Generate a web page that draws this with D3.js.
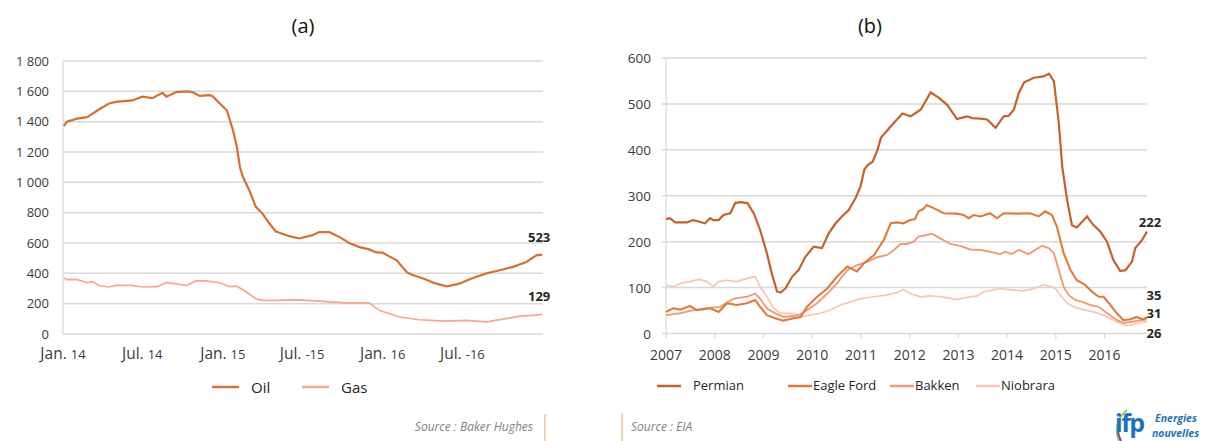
<!DOCTYPE html>
<html><head><meta charset="utf-8">
<script src="https://cdn.jsdelivr.net/npm/d3@7"></script>
<style>body{margin:0;background:#fff}svg{display:block}text{font-family:"Open Sans",sans-serif}</style>
</head><body><svg id="c" width="1210" height="441"></svg>
<script>
// ---------- Panel (a): rig counts, Baker Hughes ----------
const oilRigs = [["2014-01-03",1370],["2014-01-10",1400],["2014-02-02",1420],["2014-02-25",1430],["2014-03-24",1480],["2014-04-16",1520],["2014-05-02",1530],["2014-06-08",1540],["2014-07-01",1565],["2014-07-24",1555],["2014-08-16",1590],["2014-08-25",1565],["2014-09-17",1595],["2014-10-10",1600],["2014-10-23",1595],["2014-11-09",1570],["2014-12-02",1575],["2014-12-08",1570],["2014-12-25",1520],["2015-01-10",1475],["2015-01-24",1345],["2015-02-02",1235],["2015-02-09",1100],["2015-02-16",1035],["2015-03-02",950],["2015-03-17",840],["2015-04-01",795],["2015-04-17",730],["2015-05-02",675],["2015-06-02",645],["2015-06-24",630],["2015-07-23",650],["2015-08-09",672],["2015-09-01",672],["2015-09-24",640],["2015-10-16",600],["2015-11-09",573],["2015-12-01",558],["2015-12-17",538],["2016-01-01",536],["2016-01-16",512],["2016-02-02",486],["2016-02-25",408],["2016-03-08",390],["2016-04-01",368],["2016-05-02",332],["2016-05-27",314],["2016-06-24",332],["2016-07-23",368],["2016-08-25",400],["2016-09-24",420],["2016-10-23",441],["2016-11-24",475],["2016-12-17",519],["2016-12-30",523]];
const gasRigs = [["2014-01-03",370],["2014-01-10",358],["2014-02-02",360],["2014-02-25",338],["2014-03-10",345],["2014-03-24",320],["2014-04-16",310],["2014-05-02",320],["2014-06-08",320],["2014-07-01",310],["2014-08-03",312],["2014-08-25",338],["2014-09-17",330],["2014-10-10",320],["2014-11-01",350],["2014-11-24",350],["2014-12-25",338],["2015-01-17",312],["2015-02-02",315],["2015-02-24",277],["2015-03-17",233],["2015-04-01",222],["2015-05-02",222],["2015-06-24",225],["2015-08-09",217],["2015-10-09",205],["2015-12-01",205],["2015-12-24",156],["2016-02-08",112],["2016-03-24",94],["2016-05-24",85],["2016-07-09",90],["2016-08-25",80],["2016-10-09",101],["2016-11-09",118],["2016-12-09",123],["2016-12-30",129]];
const leftYTicks = [0,200,400,600,800,1000,1200,1400,1600,1800];
const leftYTickLabels = ["0","200","400","600","800","1 000","1 200","1 400","1 600","1 800"];
const leftXTicks = ["2014-01-01","2014-07-01","2015-01-01","2015-07-01","2016-01-01","2016-07-01"];
const leftXMonth = ["Jan.","Jul.","Jan.","Jul.","Jan.","Jul."];
const leftXYear = ["14","14","15","-15","16","-16"];
const leftSeriesNames = ["Oil","Gas"];
const leftEndLabels = ["523","129"];

// ---------- Panel (b): rigs by play, EIA ----------
const permian = [[2007.00,249],[2007.08,251],[2007.19,242],[2007.43,242],[2007.56,247],[2007.67,244],[2007.80,240],[2007.91,251],[2007.97,247],[2008.08,247],[2008.18,258],[2008.32,262],[2008.42,284],[2008.52,286],[2008.67,284],[2008.80,262],[2008.93,226],[2009.07,175],[2009.17,131],[2009.28,91],[2009.35,89],[2009.45,98],[2009.59,124],[2009.72,138],[2009.86,167],[2010.03,189],[2010.20,186],[2010.34,218],[2010.48,240],[2010.61,255],[2010.75,269],[2010.89,295],[2010.99,320],[2011.07,357],[2011.14,367],[2011.24,374],[2011.34,400],[2011.41,426],[2011.61,451],[2011.85,479],[2012.02,473],[2012.23,488],[2012.43,525],[2012.60,513],[2012.77,498],[2012.97,467],[2013.18,473],[2013.28,469],[2013.45,468],[2013.59,466],[2013.76,448],[2013.93,473],[2014.03,474],[2014.14,488],[2014.24,524],[2014.35,547],[2014.55,557],[2014.75,560],[2014.86,566],[2014.96,549],[2015.06,459],[2015.13,364],[2015.23,291],[2015.33,236],[2015.43,231],[2015.64,255],[2015.77,236],[2015.91,222],[2016.05,200],[2016.18,160],[2016.32,136],[2016.43,138],[2016.56,156],[2016.63,186],[2016.77,204],[2016.87,222]];
const eagleFord = [[2007.00,47],[2007.15,55],[2007.29,52],[2007.49,60],[2007.63,51],[2007.91,55],[2008.08,47],[2008.25,66],[2008.45,62],[2008.66,66],[2008.83,73],[2008.93,58],[2009.07,40],[2009.24,33],[2009.41,28],[2009.62,33],[2009.76,36],[2009.89,58],[2010.10,80],[2010.31,98],[2010.51,124],[2010.72,146],[2010.92,135],[2011.06,153],[2011.27,171],[2011.47,204],[2011.61,240],[2011.74,242],[2011.87,240],[2012.01,247],[2012.11,249],[2012.18,266],[2012.28,271],[2012.35,280],[2012.49,273],[2012.70,262],[2012.97,261],[2013.11,258],[2013.21,251],[2013.31,258],[2013.45,255],[2013.65,262],[2013.79,251],[2013.93,262],[2014.20,261],[2014.47,262],[2014.65,255],[2014.78,266],[2014.92,258],[2015.02,233],[2015.16,175],[2015.30,138],[2015.43,116],[2015.60,106],[2015.74,91],[2015.88,80],[2015.98,80],[2016.12,62],[2016.25,44],[2016.39,29],[2016.53,31],[2016.66,36],[2016.77,31],[2016.87,35]];
const bakken = [[2007.00,40],[2007.29,44],[2007.56,51],[2007.84,55],[2008.11,58],[2008.39,76],[2008.66,80],[2008.83,87],[2008.93,76],[2009.07,55],[2009.24,44],[2009.41,36],[2009.62,38],[2009.76,42],[2009.89,51],[2010.10,66],[2010.31,87],[2010.51,109],[2010.72,138],[2010.92,149],[2011.13,156],[2011.33,166],[2011.54,171],[2011.68,182],[2011.81,195],[2011.94,195],[2012.08,200],[2012.18,211],[2012.28,213],[2012.46,217],[2012.63,207],[2012.83,195],[2013.04,191],[2013.24,183],[2013.45,182],[2013.65,178],[2013.86,173],[2013.96,178],[2014.10,173],[2014.24,182],[2014.44,173],[2014.58,182],[2014.72,191],[2014.85,186],[2014.96,175],[2015.06,138],[2015.16,102],[2015.26,84],[2015.40,73],[2015.54,69],[2015.71,62],[2015.88,58],[2016.05,44],[2016.26,29],[2016.39,23],[2016.53,25],[2016.70,28],[2016.87,31]];
const niobrara = [[2007.00,105],[2007.15,102],[2007.29,109],[2007.49,113],[2007.67,118],[2007.84,113],[2007.97,102],[2008.08,113],[2008.25,116],[2008.45,113],[2008.66,120],[2008.83,124],[2008.93,102],[2009.07,80],[2009.21,55],[2009.35,44],[2009.55,44],[2009.69,42],[2009.76,36],[2009.96,40],[2010.17,44],[2010.37,51],[2010.58,62],[2010.79,69],[2010.99,76],[2011.27,80],[2011.54,84],[2011.74,89],[2011.87,96],[2012.01,87],[2012.22,80],[2012.42,82],[2012.63,80],[2012.76,78],[2012.97,74],[2013.18,79],[2013.38,82],[2013.52,91],[2013.72,95],[2013.86,98],[2014.07,95],[2014.34,93],[2014.55,98],[2014.75,106],[2014.89,103],[2014.99,98],[2015.09,84],[2015.23,66],[2015.37,58],[2015.57,52],[2015.78,47],[2015.98,40],[2016.19,29],[2016.39,18],[2016.53,18],[2016.70,23],[2016.87,26]];
const rightYTicks = [0,100,200,300,400,500,600];
const rightXTicks = [2007,2008,2009,2010,2011,2012,2013,2014,2015,2016];
const rightSeriesNames = ["Permian","Eagle Ford","Bakken","Niobrara"];
const rightEndLabels = ["222","35","31","26"];

const C = {oil:"#d6702f", gas:"#f5a98a", permian:"#c5622b", eagle:"#e07a3a", bakken:"#f29b74", niobrara:"#f8c6b2", grid:"#d9d9d9", text:"#3a3a3a"};

const svg = d3.select("#c");
const parse = d3.timeParse("%Y-%m-%d");

// ===== Panel (a) =====
const xa = d3.scaleTime().domain([parse("2014-01-01"), parse("2017-01-01")]).range([63, 543]);
const ya = d3.scaleLinear().domain([0, 1800]).range([334, 61]);
const ga = svg.append("g");
ga.selectAll("line.grid").data(leftYTicks).join("line")
  .attr("x1", 63).attr("x2", 543).attr("y1", d => ya(d)).attr("y2", d => ya(d))
  .attr("stroke", C.grid).attr("stroke-width", 1.5);
ga.append("line").attr("x1", 63).attr("x2", 63).attr("y1", ya(1800)).attr("y2", ya(0))
  .attr("stroke", C.grid).attr("stroke-width", 1.2);
ga.selectAll("text.yl").data(leftYTicks).join("text")
  .attr("x", 49).attr("y", d => ya(d) + 4.5).attr("text-anchor", "end")
  .attr("font-size", 13).attr("fill", C.text).text((d, i) => leftYTickLabels[i]);
const xl = ga.selectAll("text.xl").data(leftXTicks).join("text")
  .attr("x", d => xa(parse(d))).attr("y", 359).attr("text-anchor", "middle").attr("fill", C.text);
xl.append("tspan").attr("font-size", 15.5).text((d, i) => leftXMonth[i] + " ");
xl.append("tspan").attr("font-size", 13).text((d, i) => leftXYear[i]);

const lineA = d3.line().x(d => xa(parse(d[0]))).y(d => ya(d[1]));
ga.append("path").attr("d", lineA(gasRigs)).attr("fill", "none").attr("stroke", C.gas).attr("stroke-width", 1.7);
ga.append("path").attr("d", lineA(oilRigs)).attr("fill", "none").attr("stroke", C.oil).attr("stroke-width", 2.2);
const lastOil = oilRigs[oilRigs.length - 1], lastGas = gasRigs[gasRigs.length - 1];
ga.append("text").attr("x", xa(parse(lastOil[0])) - 3).attr("y", ya(lastOil[1]) - 13)
  .attr("text-anchor", "middle").attr("font-size", 13).attr("font-weight", "bold").attr("fill", "#262626").text(leftEndLabels[0]);
ga.append("text").attr("x", xa(parse(lastGas[0])) - 3).attr("y", ya(lastGas[1]) - 13)
  .attr("text-anchor", "middle").attr("font-size", 13).attr("font-weight", "bold").attr("fill", "#262626").text(leftEndLabels[1]);

svg.append("text").attr("x", 303).attr("y", 33).attr("text-anchor", "middle").attr("font-size", 20)
  .attr("font-family", "Lato, 'Open Sans', sans-serif").attr("fill", "#111").text("(a)");

// legend (a)
const legA = [{n: leftSeriesNames[0], c: C.oil, x: 212}, {n: leftSeriesNames[1], c: C.gas, x: 302}];
legA.forEach(l => {
  svg.append("line").attr("x1", l.x).attr("x2", l.x + 27).attr("y1", 387).attr("y2", 387).attr("stroke", l.c).attr("stroke-width", 2.5);
  svg.append("text").attr("x", l.x + 39).attr("y", 393).attr("font-size", 15).attr("fill", "#262626").text(l.n);
});
svg.append("text").attr("x", 533).attr("y", 431).attr("text-anchor", "end").attr("font-size", 12)
  .attr("font-style", "italic").attr("fill", "#7f7f7f").text("Source : Baker Hughes");
svg.append("line").attr("x1", 545).attr("x2", 545).attr("y1", 414).attr("y2", 441).attr("stroke", "#f6bfa5").attr("stroke-width", 1.5);

// ===== Panel (b) =====
const xb = d3.scaleLinear().domain([2007, 2016.87]).range([666, 1147]);
const yb = d3.scaleLinear().domain([0, 600]).range([333.5, 58]);
const gb = svg.append("g");
gb.selectAll("line.grid").data(rightYTicks.filter(d => d > 0)).join("line")
  .attr("x1", 662).attr("x2", 1147).attr("y1", d => yb(d)).attr("y2", d => yb(d))
  .attr("stroke", C.grid).attr("stroke-width", 1.5);
gb.append("line").attr("x1", 666).attr("x2", 666).attr("y1", yb(600)).attr("y2", yb(0)).attr("stroke", C.grid).attr("stroke-width", 1.2);
gb.append("line").attr("x1", 662).attr("x2", 1147).attr("y1", yb(0)).attr("y2", yb(0)).attr("stroke", C.grid).attr("stroke-width", 1.5);
gb.selectAll("line.tk").data(rightXTicks).join("line")
  .attr("x1", d => xb(d)).attr("x2", d => xb(d)).attr("y1", yb(0)).attr("y2", yb(0) + 5)
  .attr("stroke", C.grid).attr("stroke-width", 1.2);
gb.selectAll("text.yl").data(rightYTicks).join("text")
  .attr("x", 651).attr("y", d => yb(d) + 5).attr("text-anchor", "end")
  .attr("font-size", 13.5).attr("fill", C.text).text(d => d);
gb.selectAll("text.xl").data(rightXTicks).join("text")
  .attr("x", d => xb(d)).attr("y", 360).attr("text-anchor", "middle")
  .attr("font-size", 14).attr("fill", C.text).text(d => d);

const lineB = d3.line().x(d => xb(d[0])).y(d => yb(d[1]));
[[niobrara, C.niobrara, 1.7], [bakken, C.bakken, 1.9], [eagleFord, C.eagle, 2.1], [permian, C.permian, 2.2]].forEach(s => {
  gb.append("path").attr("d", lineB(s[0])).attr("fill", "none").attr("stroke", s[1]).attr("stroke-width", s[2]);
});
const endB = [[permian, 227], [eagleFord, 300], [bakken, 318], [niobrara, 338]];
endB.forEach((e, i) => {
  gb.append("text").attr("x", i === 0 ? 1150 : 1154).attr("y", e[1]).attr("text-anchor", "middle")
    .attr("font-size", 13).attr("font-weight", "bold").attr("fill", "#262626").text(rightEndLabels[i]);
});
svg.append("text").attr("x", 870).attr("y", 33).attr("text-anchor", "middle").attr("font-size", 20)
  .attr("font-family", "Lato, 'Open Sans', sans-serif").attr("fill", "#111").text("(b)");

// legend (b)
const legB = [{c: C.permian, x: 657, tx: 693}, {c: C.eagle, x: 788, tx: 813}, {c: C.bakken, x: 890, tx: 915}, {c: C.niobrara, x: 976, tx: 1001}];
legB.forEach((l, i) => {
  svg.append("line").attr("x1", l.x).attr("x2", l.x + 24).attr("y1", 386).attr("y2", 386).attr("stroke", l.c).attr("stroke-width", 2.5);
  svg.append("text").attr("x", l.tx).attr("y", 390).attr("font-size", 13).attr("fill", "#262626").text(rightSeriesNames[i]);
});
svg.append("line").attr("x1", 622).attr("x2", 622).attr("y1", 413).attr("y2", 441).attr("stroke", "#f6bfa5").attr("stroke-width", 1.5);
svg.append("text").attr("x", 631).attr("y", 431).attr("font-size", 12)
  .attr("font-style", "italic").attr("fill", "#7f7f7f").text("Source : EIA");

// logo
const lg = svg.append("g");
lg.append("path").attr("d", "M1119,441 A26,26 0 0 1 1127,410").attr("fill", "none").attr("stroke", "#9bcb4a").attr("stroke-width", 2);
lg.append("path").attr("d", "M1121,441 A24,24 0 0 1 1118,428").attr("fill", "none").attr("stroke", "#8a3f98").attr("stroke-width", 2);
lg.append("text").attr("x", 1115).attr("y", 432).attr("font-size", 25).attr("font-weight", "bold")
  .attr("letter-spacing", -1.5).attr("fill", "#1c72b8").text("ifp");
lg.append("text").attr("x", 1155).attr("y", 422).attr("font-size", 10.5).attr("font-weight", "bold")
  .attr("font-style", "italic").attr("fill", "#1c72b8").text("Energies");
lg.append("text").attr("x", 1152).attr("y", 437).attr("font-size", 10.5).attr("font-weight", "bold")
  .attr("font-style", "italic").attr("fill", "#1c72b8").text("nouvelles");
</script></body></html>
